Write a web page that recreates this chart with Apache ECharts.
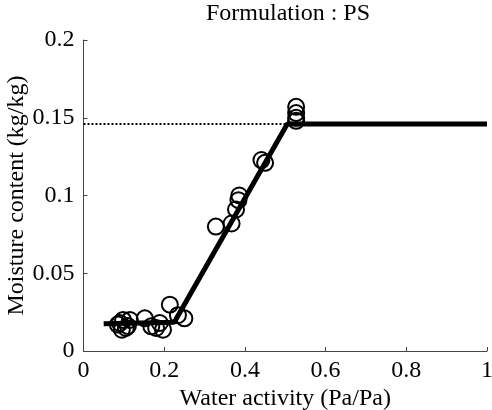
<!DOCTYPE html>
<html>
<head>
<meta charset="utf-8">
<script src="https://cdn.jsdelivr.net/npm/echarts@6/dist/echarts.min.js"></script>
<style>html,body{margin:0;padding:0;background:#fff;}#c{width:492px;height:410px;}</style>
</head>
<body>
<div id="c"></div>
<script>
const titleText = 'Formulation : PS';
const xName = 'Water activity (Pa/Pa)';
const yName = 'Moisture content (kg/kg)';
const xTicks = [0, 0.2, 0.4, 0.6, 0.8, 1];
const yTicks = [0, 0.05, 0.1, 0.15, 0.2];
const obsX = [0.085, 0.098, 0.105, 0.115, 0.095, 0.11, 0.09, 0.152, 0.168, 0.18, 0.189, 0.197, 0.214, 0.234, 0.25, 0.328, 0.367, 0.378, 0.384, 0.386, 0.441, 0.45, 0.527, 0.527, 0.527, 0.527];
const obsY = [0.017, 0.020, 0.0148, 0.020, 0.0137, 0.016, 0.018, 0.021, 0.0159, 0.0148, 0.018, 0.0137, 0.0298, 0.023, 0.021, 0.080, 0.082, 0.091, 0.097, 0.100, 0.1228, 0.121, 0.157, 0.153, 0.150, 0.148];
const fitX = [0.05, 0.225, 0.505, 1.0];
const fitY = [0.0175, 0.0185, 0.146, 0.146];
const satX = [0, 0.505];
const satY = [0.146, 0.146];

const font = 'Liberation Serif';
const chart = echarts.init(document.getElementById('c'), null, {renderer: 'canvas'});
chart.setOption({
  animation: false,
  backgroundColor: '#fff',
  title: {text: titleText, left: 283, top: -3, textAlign: 'center',
    textStyle: {fontFamily: font, fontSize: 24, fontWeight: 'normal', color: '#000'}},
  grid: {left: 83.5, right: 5, top: 40, bottom: 59, containLabel: false, outerBoundsMode: 'none'},
  xAxis: {
    type: 'value', min: 0, max: 1, interval: 0.2,
    name: xName, nameLocation: 'middle', nameGap: 36, nameMoveOverlap: false,
    nameTextStyle: {fontFamily: font, fontSize: 24, color: '#000'},
    axisLine: {show: true, lineStyle: {color: '#444', width: 1}},
    axisTick: {show: true, inside: true, length: 4, lineStyle: {color: '#444'}},
    axisLabel: {fontFamily: font, fontSize: 24, color: '#000', margin: 8,
      formatter: v => String(xTicks.find(t => Math.abs(t - v) < 1e-9) ?? v)},
    splitLine: {show: false}
  },
  yAxis: {
    type: 'value', min: 0, max: 0.2, interval: 0.05,
    name: yName, nameLocation: 'middle', nameGap: 55, nameRotate: 90, nameMoveOverlap: false,
    nameTextStyle: {fontFamily: font, fontSize: 24, color: '#000'},
    axisLine: {show: true, lineStyle: {color: '#444', width: 1}},
    axisTick: {show: true, inside: true, length: 4, lineStyle: {color: '#444'}},
    axisLabel: {fontFamily: font, fontSize: 24, color: '#000', margin: 9,
      formatter: v => String(yTicks.find(t => Math.abs(t - v) < 1e-9) ?? v)},
    splitLine: {show: false}
  },
  series: [
    {type: 'scatter', data: obsX.map((x, i) => [x, obsY[i]]), symbol: 'circle', symbolSize: 16,
      itemStyle: {color: 'rgba(0,0,0,0)', borderColor: '#000', borderWidth: 2, opacity: 1}, z: 2},
    {type: 'line', data: satX.map((x, i) => [x, satY[i]]), symbol: 'none',
      lineStyle: {color: '#000', width: 2, type: [2, 2]}, z: 3},
    {type: 'line', data: fitX.map((x, i) => [x, fitY[i]]), symbol: 'none',
      lineStyle: {color: '#000', width: 5}, z: 4}
  ]
});
</script>
</body>
</html>
